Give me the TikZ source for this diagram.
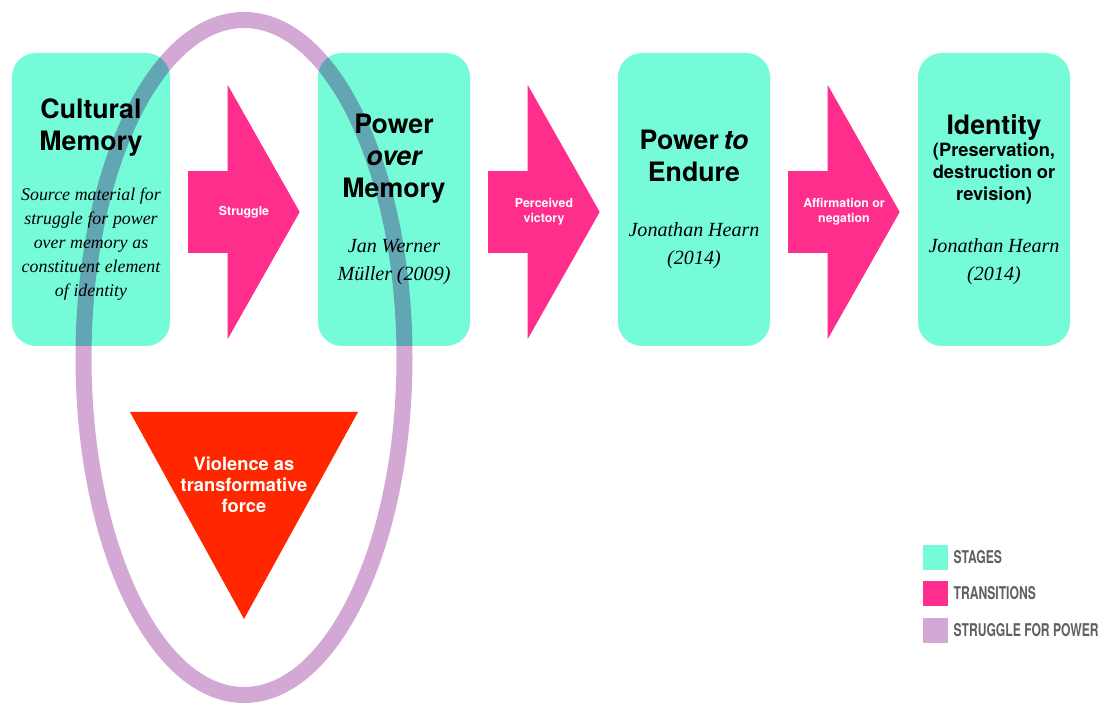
\documentclass[tikz,border=0pt]{standalone}
\usepackage{fontspec}
\setmainfont{Liberation Serif}
\newfontfamily\headfont{TeX Gyre Heros}
\newfontfamily\keyfont[FakeStretch=0.69]{TeX Gyre Heros}
\usetikzlibrary{arrows.meta,positioning}

\definecolor{stagecol}{RGB}{118,251,216}
\definecolor{transcol}{RGB}{255,46,140}
\definecolor{ringcol}{RGB}{212,168,212}
\definecolor{violcol}{RGB}{255,38,0}
\definecolor{keygray}{RGB}{95,95,95}

\newcommand{\stagehead}{\fontsize{19}{22.5}\headfont\bfseries}
\newcommand{\stagesub}{\fontsize{13}{15.6}\headfont\bfseries}
\newcommand{\srcsmall}{\fontsize{12.7}{17}\selectfont\itshape}
\newcommand{\srcbig}{\fontsize{14.3}{20}\selectfont\itshape}

\begin{document}
\begin{tikzpicture}[node distance=7.5cm,
  stage/.style={fill=stagecol, rounded corners=0.6cm, minimum width=3.8cm, minimum height=7.325cm, text width=3.7cm, align=center, inner sep=0pt},
  trans/.style={draw=transcol, line width=2.05cm, -{Triangle[length=1.8cm, width=6.35cm, line width=0pt]}},
  translabel/.style={midway, text=white, align=center, font=\headfont\bfseries\fontsize{8.8}{10.6}\selectfont},
  key/.style={minimum size=0.625cm, inner sep=0pt},
  keytext/.style={text=keygray, font=\keyfont\bfseries\fontsize{12.5}{14}\selectfont, inner sep=0pt}]
\useasboundingbox (0,0) rectangle (27.675,17.6);
% stages
\node[stage, minimum width=3.95cm] (cm) at (2.275,12.6125) {{\stagehead Cultural\\Memory\par}\vspace{19pt}{\srcsmall Source material for\\struggle for power\\over memory as\\constituent element\\of identity\par}};
\node[stage] (pom) at (9.85,12.6125) {{\stagehead Power\\{\itshape over}\\Memory\par}\vspace{19pt}{\srcbig Jan Werner\\Müller (2009)\par}};
\node[stage] (pte) [right of=pom] {{\stagehead Power {\itshape to}\\Endure\par}\vspace{19pt}{\srcbig Jonathan Hearn\\(2014)\par}};
\node[stage] (id) [right of=pte] {{\stagehead Identity\par}{\stagesub (Preservation,\\destruction or\\revision)\par}\vspace{17pt}{\srcbig Jonathan Hearn\\(2014)\par}};
% transitions
\draw[trans] ([shift={(0.45,-0.3125)}]cm.east) -- node[translabel] (t1) {Struggle} ([shift={(-0.45,-0.3125)}]pom.west);
\draw[trans] ([shift={(0.45,-0.3125)}]pom.east) -- node[translabel] (t2) {Perceived\\victory} ([shift={(-0.45,-0.3125)}]pte.west);
\draw[trans] ([shift={(0.45,-0.3125)}]pte.east) -- node[translabel] (t3) {Affirmation or\\negation} ([shift={(-0.45,-0.3125)}]id.west);
% violence
\fill[violcol] (3.25,7.3) -- (8.95,7.3) -- (6.1,2.125) -- cycle;
\node[text=white, align=center, font=\headfont\bfseries\fontsize{13}{14.9}\selectfont] (viol) at (6.1,5.47) {Violence as\\transformative\\force};
% struggle for power
\draw[ringcol, line width=0.4cm, blend mode=multiply] (6.1,8.6625) ellipse [x radius=4.0125cm, y radius=8.4375cm];
% legend
\node[key, fill=stagecol] (k1) at (23.39,3.675) {};
\node[key, fill=transcol] (k2) at (23.39,2.775) {};
\node[key, fill=ringcol] (k3) at (23.39,1.85) {};
\node[keytext, right=1.25mm of k1] (k1txt) {STAGES};
\node[keytext, right=1.25mm of k2] (k2txt) {TRANSITIONS};
\node[keytext, right=1.25mm of k3] (k3txt) {STRUGGLE FOR POWER};
\end{tikzpicture}
\end{document}
